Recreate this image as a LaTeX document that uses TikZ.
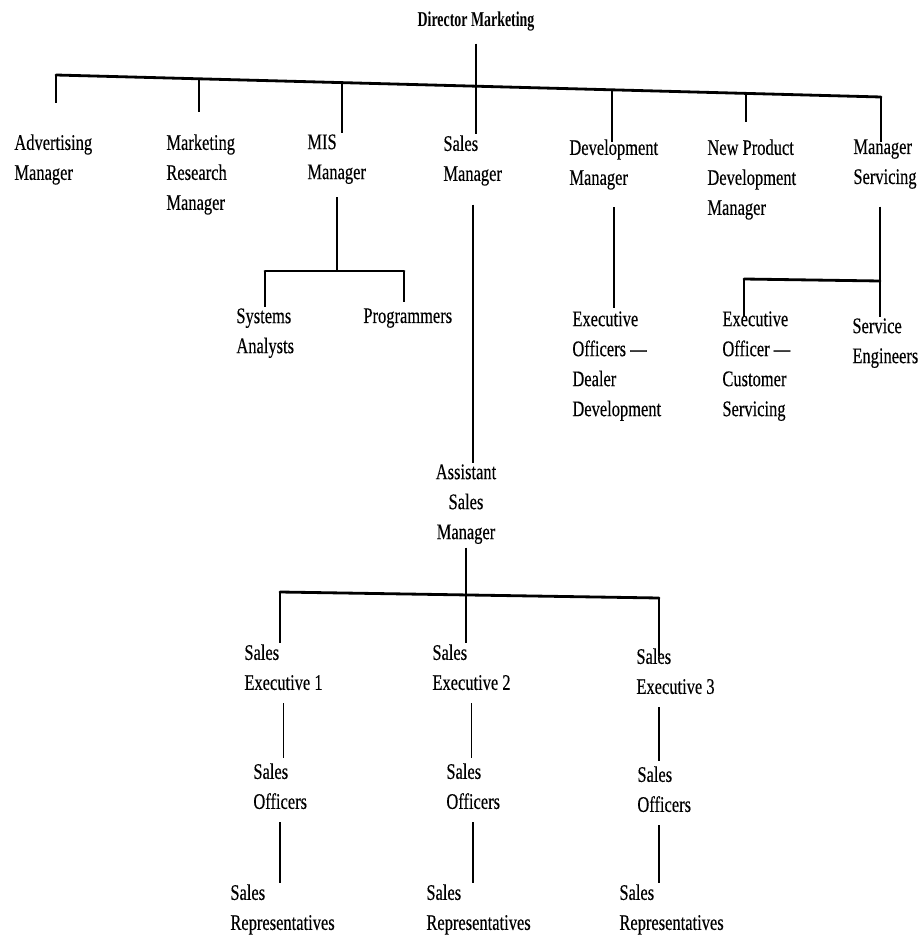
\documentclass[tikz,border=0pt]{standalone}
\usepackage{fontspec}
\setmainfont{Liberation Serif}[FakeStretch=0.74, FakeBold=0.3]
\newfontfamily\headfont{Liberation Serif}[FakeStretch=0.66]
\usetikzlibrary{positioning, calc}
\tikzset{
  post/.style  = {anchor=north west, align=left, inner sep=1pt,
                  font=\fontsize{19}{25.6}\selectfont},
  cpost/.style = {post, anchor=north, align=center},
  head/.style  = {anchor=base, inner sep=1pt,
                  font=\headfont\fontsize{18}{20}\selectfont\bfseries},
  link/.style  = {line width=1.5pt},
  bar/.style   = {line width=2.4pt, line cap=round},
}

\begin{document}
\begin{tikzpicture}[x=0.03cm, y=-0.03cm]
  \useasboundingbox (0,0) rectangle (920,935);

  % top
  \node[head] (dir) at (476,27) {Director Marketing};

  \node[post] (adv) at (13,133)  {Advertising\\Manager};
  \node[post] (mrm) at (165,133) {Marketing\\Research\\Manager};
  \node[post] (mis) at (306,133) {MIS\\Manager};
  \node[post] (sm)  at (442,134) {Sales\\Manager};
  \node[post] (dm)  at (568,138) {Development\\Manager};
  \node[post] (npd) at (706,138) {New Product\\Development\\Manager};
  \node[post] (ms)  at (852,138) {Manager\\Servicing};

  % second level
  \node[post] (sa)   at (235,307) {Systems\\Analysts};
  \node[post] (prog) at (362,307) {Programmers};
  \node[post] (eod)  at (571,310) {Executive\\Officers ---\\Dealer\\Development};
  \node[post] (eoc)  at (721,310) {Executive\\Officer ---\\Customer\\Servicing};
  \node[post] (seng) at (851,317) {Service\\Engineers};

  \node[cpost] (asm) at (466,463) {Assistant\\Sales\\Manager};

  % sales line
  \node[post] (se1) at (243,643) {Sales\\Executive 1};
  \node[post] (se2) at (431,643) {Sales\\Executive 2};
  \node[post] (se3) at (635,647) {Sales\\Executive 3};
  \node[post] (so1) at (252,762) {Sales\\Officers};
  \node[post] (so2) at (445,762) {Sales\\Officers};
  \node[post] (so3) at (636,765) {Sales\\Officers};
  \node[post] (sr1) at (229,883) {Sales\\Representatives};
  \node[post] (sr2) at (425,883) {Sales\\Representatives};
  \node[post] (sr3) at (618,883) {Sales\\Representatives};

  % main bar (printed with a slight slope)
  \coordinate (barL) at (56,75);
  \coordinate (barR) at (881,97);
  \coordinate (jmrm) at (199,79);
  \coordinate (jmis) at (342,83);
  \coordinate (jdm)  at (612,90);
  \coordinate (jnpd) at (746,93);
  \draw[bar] (barL) -- (barR);
  \draw[link, shorten <=9pt] (dir.south) -- (dir.south |- sm.north);
  \draw[link, shorten >=26pt] (barL) -- (barL |- adv.north);
  \draw[link, shorten >=18pt] (jmrm) -- (jmrm |- mrm.north);
  \draw[link] (jmis) -- (jmis |- mis.north);
  \draw[link, shorten >=-3pt] (jdm) -- (jdm |- dm.north);
  \draw[link, shorten >=14pt] (jnpd) -- (jnpd |- npd.north);
  \draw[link, shorten >=-3pt] (barR) -- (barR |- ms.north);

  % MIS
  \coordinate (misL) at (265,271);
  \coordinate (misR) at (404,271);
  \draw[link, shorten <=10pt] (mis.south) -- (mis.south |- misL);
  \draw[bar] (misL) -- (misR);
  \draw[link] (misL) -- (misL |- sa.north);
  \draw[link, shorten >=4pt] (misR) -- (misR |- prog.north);

  % development
  \draw[link, shorten <=14pt, shorten >=2pt] (dm.south) -- (dm.south |- eod.north);

  % servicing
  \coordinate (scL) at (744,279);
  \coordinate (scR) at (880,281);
  \draw[link, shorten <=14pt] (ms.south -| scR) -- (scR |- seng.north);
  \draw[bar] (scL) -- (scR);
  \draw[link, shorten >=-6pt] (scL) -- (scL |- eoc.north);

  % sales
  \draw[link, shorten <=15pt] (sm.south) -- (sm.south |- asm.north);
  \coordinate (botL) at (280,592);
  \coordinate (botR) at (659,598);
  \draw[link, shorten <=2pt] (asm.south) -- (asm.south |- se2.north);
  \draw[bar] (botL) -- (botR);
  \draw[link] (botL) -- (botL |- se1.north);
  \draw[link, shorten >=-8pt] (botR) -- (botR |- se3.north);

  \draw[link, shorten <=10pt, shorten >=3pt] (se1.south) -- (se1.south |- so1.north);
  \draw[link, shorten <=10pt, shorten >=3pt] (se2.south) -- (se2.south |- so2.north);
  \draw[link, shorten <=10pt, shorten >=3pt] (se3.south -| botR) -- (so3.north -| botR);
  \draw[link, shorten <=10pt] (so1.south) -- (so1.south |- sr1.north);
  \draw[link, shorten <=10pt] (so2.south) -- (so2.south |- sr2.north);
  \draw[link, shorten <=10pt] (so3.south -| botR) -- (sr3.north -| botR);
\end{tikzpicture}
\end{document}
